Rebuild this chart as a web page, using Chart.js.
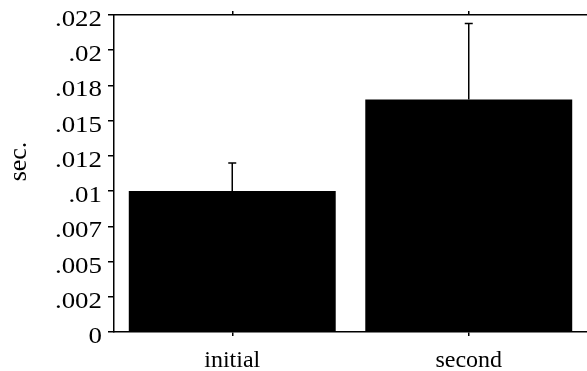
<!DOCTYPE html>
<html>
<head>
<meta charset="utf-8">
<script src="https://cdn.jsdelivr.net/npm/chart.js@4"></script>
<style>
html,body{margin:0;padding:0;background:#fff;overflow:hidden;}
#wrap{width:587px;height:371px;position:relative;}
</style>
</head>
<body>
<div id="wrap"><canvas id="c" width="587" height="371"></canvas></div>
<script>
const categories = ['initial', 'second'];
const meanValues = [0.0100, 0.0165];
const errorValues = [0.0020, 0.0054];
const yTickLabels = ['0', '.002', '.005', '.007', '.01', '.012', '.015', '.018', '.02', '.022'];
const yAxisTitle = 'sec.';

const FONT = "'Liberation Serif', 'Times New Roman', serif";

const errorBarPlugin = {
  id: 'errorBars',
  afterDatasetsDraw(chart) {
    const ctx = chart.ctx;
    const meta = chart.getDatasetMeta(0);
    const y = chart.scales.y;
    ctx.save();
    ctx.strokeStyle = '#000';
    ctx.lineWidth = 1.5;
    meta.data.forEach((bar, i) => {
      const x = bar.x;
      const yTop = y.getPixelForValue(meanValues[i] + errorValues[i]);
      const yBase = y.getPixelForValue(meanValues[i]);
      ctx.beginPath();
      ctx.moveTo(x, yBase);
      ctx.lineTo(x, yTop);
      ctx.moveTo(x - 4, yTop);
      ctx.lineTo(x + 4, yTop);
      ctx.stroke();
    });
    ctx.restore();
  }
};

// Draws the y tick labels and the axis title (wide serif look of the original)
const yLabelPlugin = {
  id: 'yLabels',
  afterDraw(chart) {
    const ctx = chart.ctx;
    const y = chart.scales.y;
    ctx.save();
    ctx.fillStyle = '#000';
    ctx.font = "24px " + FONT;
    ctx.textAlign = 'right';
    ctx.textBaseline = 'alphabetic';
    const xRight = y.right - 12;
    y.ticks.forEach((t, i) => {
      const py = y.getPixelForTick(i);
      ctx.save();
      ctx.translate(xRight, py + 11);
      ctx.scale(1.12, 1);
      ctx.fillText(yTickLabels[i], 0, 0);
      ctx.restore();
    });
    // axis title
    ctx.save();
    ctx.font = "26px " + FONT;
    ctx.translate(19, (y.top + y.bottom) / 2 - 12);
    ctx.rotate(-Math.PI / 2);
    ctx.textAlign = 'center';
    ctx.textBaseline = 'middle';
    ctx.fillText(yAxisTitle, 0, 0);
    ctx.restore();
    ctx.restore();
  }
};

new Chart(document.getElementById('c'), {
  type: 'bar',
  data: {
    labels: categories,
    datasets: [{
      data: meanValues,
      backgroundColor: '#000',
      borderWidth: 0,
      categoryPercentage: 1.0,
      barPercentage: 0.875
    }]
  },
  options: {
    responsive: false,
    animation: false,
    devicePixelRatio: 1,
    layout: { padding: { top: 11, right: 0, bottom: 0, left: 0 } },
    plugins: { legend: { display: false }, tooltip: { enabled: false } },
    scales: {
      x: {
        type: 'category',
        position: 'bottom',
        offset: true,
        afterFit(scale) { scale.height = 39; },
        grid: { offset: false, drawOnChartArea: false, tickLength: 4, color: '#000', lineWidth: 1.5 },
        border: { display: true, color: '#000', width: 1.5 },
        ticks: { color: '#000', font: { family: FONT, size: 24 }, padding: 10, maxRotation: 0 }
      },
      x2: {
        type: 'category',
        position: 'top',
        labels: categories,
        offset: true,
        afterFit(scale) { scale.height = 4; },
        grid: { offset: false, drawOnChartArea: false, tickLength: 4, color: '#000', lineWidth: 1.5 },
        border: { display: true, color: '#000', width: 1.5 },
        ticks: { display: false }
      },
      y: {
        min: 0,
        max: 0.0225,
        afterBuildTicks(scale) {
          scale.ticks = yTickLabels.map((_, i) => ({ value: i * 0.0025 }));
        },
        afterFit(scale) {
          scale.width = 114;
        },
        grid: { drawOnChartArea: false, tickLength: 6, color: '#000', lineWidth: 1.5 },
        border: { display: true, color: '#000', width: 1.5 },
        ticks: { display: false }
      }
    }
  },
  plugins: [errorBarPlugin, yLabelPlugin]
});
</script>
</body>
</html>
